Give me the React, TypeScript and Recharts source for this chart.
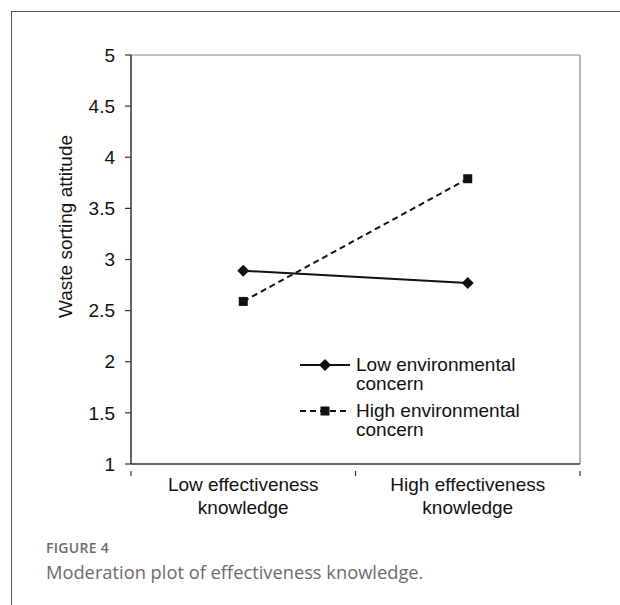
import React from 'react';
import { LineChart, Line, XAxis, YAxis, ReferenceLine } from 'recharts';

const categories = ['Low effectiveness knowledge', 'High effectiveness knowledge'];
const seriesNames = ['Low environmental concern', 'High environmental concern'];
const lowConcern = [2.89, 2.77];
const highConcern = [2.59, 3.79];
const yTicks = [1, 1.5, 2, 2.5, 3, 3.5, 4, 4.5, 5];
const xTicks = [0, 0.5, 1, 1.5, 2];

const data = categories.map((name, i) => ({
  x: i + 0.5,
  name,
  low: lowConcern[i],
  high: highConcern[i],
}));

const FONT = '"Liberation Sans", Arial, sans-serif';
const INK = '#111';
const FS = 19;

// diamond marker for the low-concern line
const Diamond = (props: any) => {
  const { cx, cy } = props;
  if (cx == null || cy == null) return null;
  const r = 6;
  return <path d={`M${cx},${cy - r}L${cx + r},${cy}L${cx},${cy + r}L${cx - r},${cy}Z`} fill={INK} />;
};

// square marker for the high-concern line
const Square = (props: any) => {
  const { cx, cy } = props;
  if (cx == null || cy == null) return null;
  const s = 9;
  return <rect x={cx - s / 2} y={cy - s / 2} width={s} height={s} fill={INK} />;
};

// category labels sit at band centres, tick marks at band edges
const XTick = (props: any) => {
  const { x, y, payload } = props;
  const v = payload.value;
  if (Number.isInteger(v)) {
    return <line x1={x} x2={x} y1={y - 1} y2={y + 4} stroke="#333" strokeWidth={1.2} />;
  }
  const label: string = categories[Math.floor(v)] || '';
  const cut = label.lastIndexOf(' ');
  return (
    <text x={x} y={y} textAnchor="middle" fontSize={FS} fontFamily={FONT} fill={INK}>
      <tspan x={x} dy={19}>{label.slice(0, cut)}</tspan>
      <tspan x={x} dy={23}>{label.slice(cut + 1)}</tspan>
    </text>
  );
};

const YTitle = (props: any) => {
  const { viewBox } = props;
  const cx = 65;
  const cy = viewBox.y + viewBox.height / 2 - 33;
  return (
    <text
      x={cx}
      y={cy}
      transform={`rotate(-90 ${cx} ${cy})`}
      textAnchor="middle"
      dominantBaseline="central"
      fontSize={FS}
      fontFamily={FONT}
      fill={INK}
    >
      Waste sorting attitude
    </text>
  );
};

const LegendRow = ({ name, dashed }: { name: string; dashed: boolean }) => {
  const cut = name.lastIndexOf(' ');
  return (
    <div style={{ display: 'flex', alignItems: 'flex-start', marginBottom: 8 }}>
      <svg width={52} height={20} style={{ flex: 'none' }}>
        <line x1={0} x2={50} y1={10} y2={10} stroke={INK} strokeWidth={2} strokeDasharray={dashed ? '6 4' : undefined} />
        {dashed ? <Square cx={25} cy={10} /> : <Diamond cx={25} cy={10} />}
      </svg>
      <div style={{ lineHeight: '19px', marginLeft: 4 }}>
        <div>{name.slice(0, cut)}</div>
        <div>{name.slice(cut + 1)}</div>
      </div>
    </div>
  );
};

export default function App() {
  return (
    <div style={{ position: 'absolute', left: 0, top: 0, width: 620, height: 605, background: '#fff', overflow: 'hidden' }}>
      <div style={{ position: 'absolute', left: 11, top: 11, right: 0, bottom: 0, borderTop: '1px solid #555', borderLeft: '1px solid #555' }} />
      <div style={{ position: 'absolute', left: 0, top: 0 }}>
        <LineChart width={620} height={530} data={data} margin={{ top: 55, right: 40, left: 71, bottom: 10 }}>
          <ReferenceLine y={5} stroke="#888" strokeWidth={1.2} />
          <ReferenceLine x={2} stroke="#888" strokeWidth={1.2} />
          <XAxis
            dataKey="x"
            type="number"
            domain={[0, 2]}
            ticks={xTicks}
            interval={0}
            height={56}
            axisLine={{ stroke: '#333', strokeWidth: 1.5 }}
            tickLine={false}
            tick={<XTick />}
          />
          <YAxis
            domain={[1, 5]}
            ticks={yTicks}
            interval={0}
            width={60}
            axisLine={{ stroke: '#333', strokeWidth: 1.5 }}
            tickLine={{ stroke: '#333', strokeWidth: 1.2 }}
            tickSize={6}
            tickMargin={10}
            tick={{ fontSize: FS, fontFamily: FONT, fill: INK }}
            label={<YTitle />}
          />
          <Line
            dataKey="low"
            name={seriesNames[0]}
            stroke={INK}
            strokeWidth={2}
            dot={<Diamond />}
            activeDot={false}
            isAnimationActive={false}
          />
          <Line
            dataKey="high"
            name={seriesNames[1]}
            stroke={INK}
            strokeWidth={2}
            strokeDasharray="6 4"
            dot={<Square />}
            activeDot={false}
            isAnimationActive={false}
          />
        </LineChart>
      </div>
      <div style={{ position: 'absolute', left: 300, top: 355, fontFamily: FONT, fontSize: FS, color: INK }}>
        <LegendRow name={seriesNames[0]} dashed={false} />
        <LegendRow name={seriesNames[1]} dashed={true} />
      </div>
      <div style={{ position: 'absolute', left: 46, top: 538, fontFamily: '"Open Sans", sans-serif', color: '#6b6b6b' }}>
        <div style={{ fontSize: 14, fontWeight: 600, letterSpacing: 0.3 }}>FIGURE 4</div>
        <div style={{ fontSize: 18.3, marginTop: 2 }}>Moderation plot of effectiveness knowledge.</div>
      </div>
    </div>
  );
}
